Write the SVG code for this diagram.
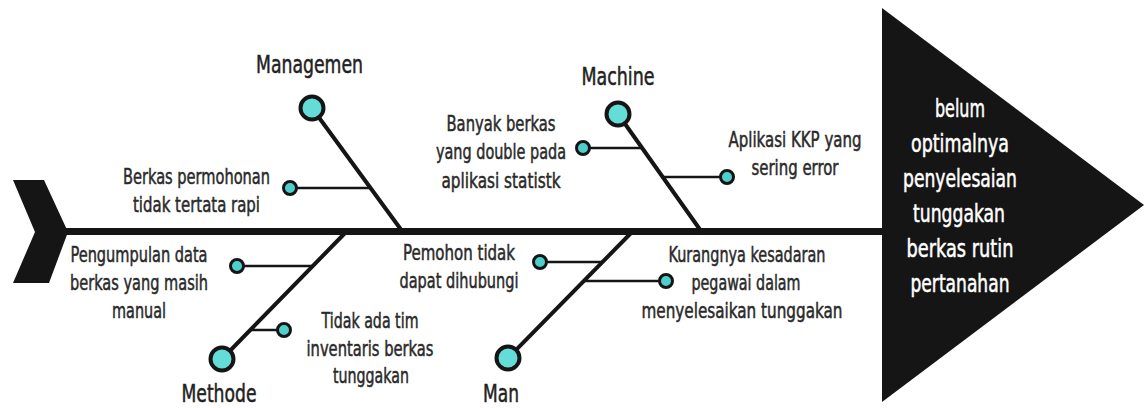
<svg xmlns="http://www.w3.org/2000/svg" width="1144" height="408" viewBox="0 0 1144 408">
<style>
.bg{fill:#ffffff}
.dark{fill:#151515}
.spine{stroke:#151515;stroke-width:7;fill:none}
.bone{stroke:#151515;stroke-width:4;fill:none;stroke-linecap:round}
.sub{stroke:#151515;stroke-width:2.5;fill:none}
.big{fill:#64dcd8;stroke:#151515;stroke-width:4}
.small{fill:#4fcfcb;stroke:#151515;stroke-width:3}
text{font-family:"DejaVu Sans Condensed","Liberation Sans Narrow","Roboto Condensed","Liberation Sans",sans-serif;text-anchor:middle;fill:#2a2a2a;stroke:#2a2a2a;stroke-width:0.5}
.cat{font-size:25px;fill:#222;stroke:#222}
.lbl{font-size:21.5px}
.main{font-size:24px;fill:#ffffff;stroke:#ffffff}
</style>
<rect class="bg" x="0" y="0" width="1144" height="408"/>
<g id="tail"><polygon class="dark" points="13,180 44,180 68,232 49,283 13,283 35,232"/></g>
<g id="effect">
<polygon class="dark" points="882,8 1144,205 882,402"/>
<text class="main" x="960" y="117" textLength="50" lengthAdjust="spacingAndGlyphs">belum</text>
<text class="main" x="960" y="152" textLength="98" lengthAdjust="spacingAndGlyphs">optimalnya</text>
<text class="main" x="960" y="187" textLength="114" lengthAdjust="spacingAndGlyphs">penyelesaian</text>
<text class="main" x="959" y="222" textLength="92" lengthAdjust="spacingAndGlyphs">tunggakan</text>
<text class="main" x="960" y="257" textLength="107" lengthAdjust="spacingAndGlyphs">berkas rutin</text>
<text class="main" x="960" y="292" textLength="99" lengthAdjust="spacingAndGlyphs">pertanahan</text>
</g>
<g id="connectors">
<line class="spine" x1="60" y1="231.5" x2="884" y2="231.5"/>
<line class="bone" x1="312" y1="108" x2="402" y2="231"/>
<line class="bone" x1="618" y1="114" x2="701" y2="231"/>
<line class="bone" x1="347" y1="231" x2="222" y2="359"/>
<line class="bone" x1="633" y1="231" x2="508" y2="358"/>
<line class="sub" x1="290" y1="188" x2="370" y2="188"/>
<line class="sub" x1="583" y1="148" x2="642" y2="148"/>
<line class="sub" x1="662" y1="177" x2="727" y2="177"/>
<line class="sub" x1="237" y1="266" x2="314" y2="266"/>
<line class="sub" x1="250" y1="330" x2="284" y2="330"/>
<line class="sub" x1="540" y1="262" x2="603" y2="262"/>
<line class="sub" x1="584" y1="281" x2="666" y2="281"/>
</g>
<g id="managemen">
<circle class="big" cx="312" cy="108" r="11.5"/>
<text class="cat" x="309.5" y="73" textLength="107" lengthAdjust="spacingAndGlyphs">Managemen</text>
</g>
<g id="machine">
<circle class="big" cx="618" cy="114" r="11.5"/>
<text class="cat" x="618" y="85" textLength="73" lengthAdjust="spacingAndGlyphs">Machine</text>
</g>
<g id="methode">
<circle class="big" cx="222" cy="359" r="11.5"/>
<text class="cat" x="219" y="402" textLength="75" lengthAdjust="spacingAndGlyphs">Methode</text>
</g>
<g id="man">
<circle class="big" cx="508" cy="358" r="11.5"/>
<text class="cat" x="501" y="402" textLength="36" lengthAdjust="spacingAndGlyphs">Man</text>
</g>
<g id="cause-berkas-permohonan">
<circle class="small" cx="290" cy="188" r="6.5"/>
<text class="lbl" x="196.5" y="184" textLength="147" lengthAdjust="spacingAndGlyphs">Berkas permohonan</text>
<text class="lbl" x="196.5" y="212" textLength="127" lengthAdjust="spacingAndGlyphs">tidak tertata rapi</text>
</g>
<g id="cause-banyak-berkas">
<circle class="small" cx="583" cy="148" r="6.5"/>
<text class="lbl" x="501" y="131" textLength="109" lengthAdjust="spacingAndGlyphs">Banyak berkas</text>
<text class="lbl" x="501" y="159" textLength="130" lengthAdjust="spacingAndGlyphs">yang double pada</text>
<text class="lbl" x="501" y="188" textLength="119" lengthAdjust="spacingAndGlyphs">aplikasi statistk</text>
</g>
<g id="cause-aplikasi-kkp">
<circle class="small" cx="727" cy="177" r="6.5"/>
<text class="lbl" x="795" y="147" textLength="133" lengthAdjust="spacingAndGlyphs">Aplikasi KKP yang</text>
<text class="lbl" x="795" y="175" textLength="87" lengthAdjust="spacingAndGlyphs">sering error</text>
</g>
<g id="cause-pengumpulan-data">
<circle class="small" cx="237" cy="266" r="6.5"/>
<text class="lbl" x="139" y="262" textLength="137" lengthAdjust="spacingAndGlyphs">Pengumpulan data</text>
<text class="lbl" x="139" y="290" textLength="138" lengthAdjust="spacingAndGlyphs">berkas yang masih</text>
<text class="lbl" x="139" y="318" textLength="54" lengthAdjust="spacingAndGlyphs">manual</text>
</g>
<g id="cause-tidak-ada-tim">
<circle class="small" cx="284" cy="330" r="6.5"/>
<text class="lbl" x="370" y="328" textLength="97" lengthAdjust="spacingAndGlyphs">Tidak ada tim</text>
<text class="lbl" x="370" y="356" textLength="127" lengthAdjust="spacingAndGlyphs">inventaris berkas</text>
<text class="lbl" x="371" y="383" textLength="76" lengthAdjust="spacingAndGlyphs">tunggakan</text>
</g>
<g id="cause-pemohon">
<circle class="small" cx="540" cy="262" r="6.5"/>
<text class="lbl" x="459" y="260" textLength="112" lengthAdjust="spacingAndGlyphs">Pemohon tidak</text>
<text class="lbl" x="459" y="288" textLength="119" lengthAdjust="spacingAndGlyphs">dapat dihubungi</text>
</g>
<g id="cause-kesadaran">
<circle class="small" cx="666" cy="281" r="6.5"/>
<text class="lbl" x="747" y="262" textLength="157" lengthAdjust="spacingAndGlyphs">Kurangnya kesadaran</text>
<text class="lbl" x="746" y="290" textLength="109" lengthAdjust="spacingAndGlyphs">pegawai dalam</text>
<text class="lbl" x="742" y="318" textLength="201" lengthAdjust="spacingAndGlyphs">menyelesaikan tunggakan</text>
</g>
</svg>
